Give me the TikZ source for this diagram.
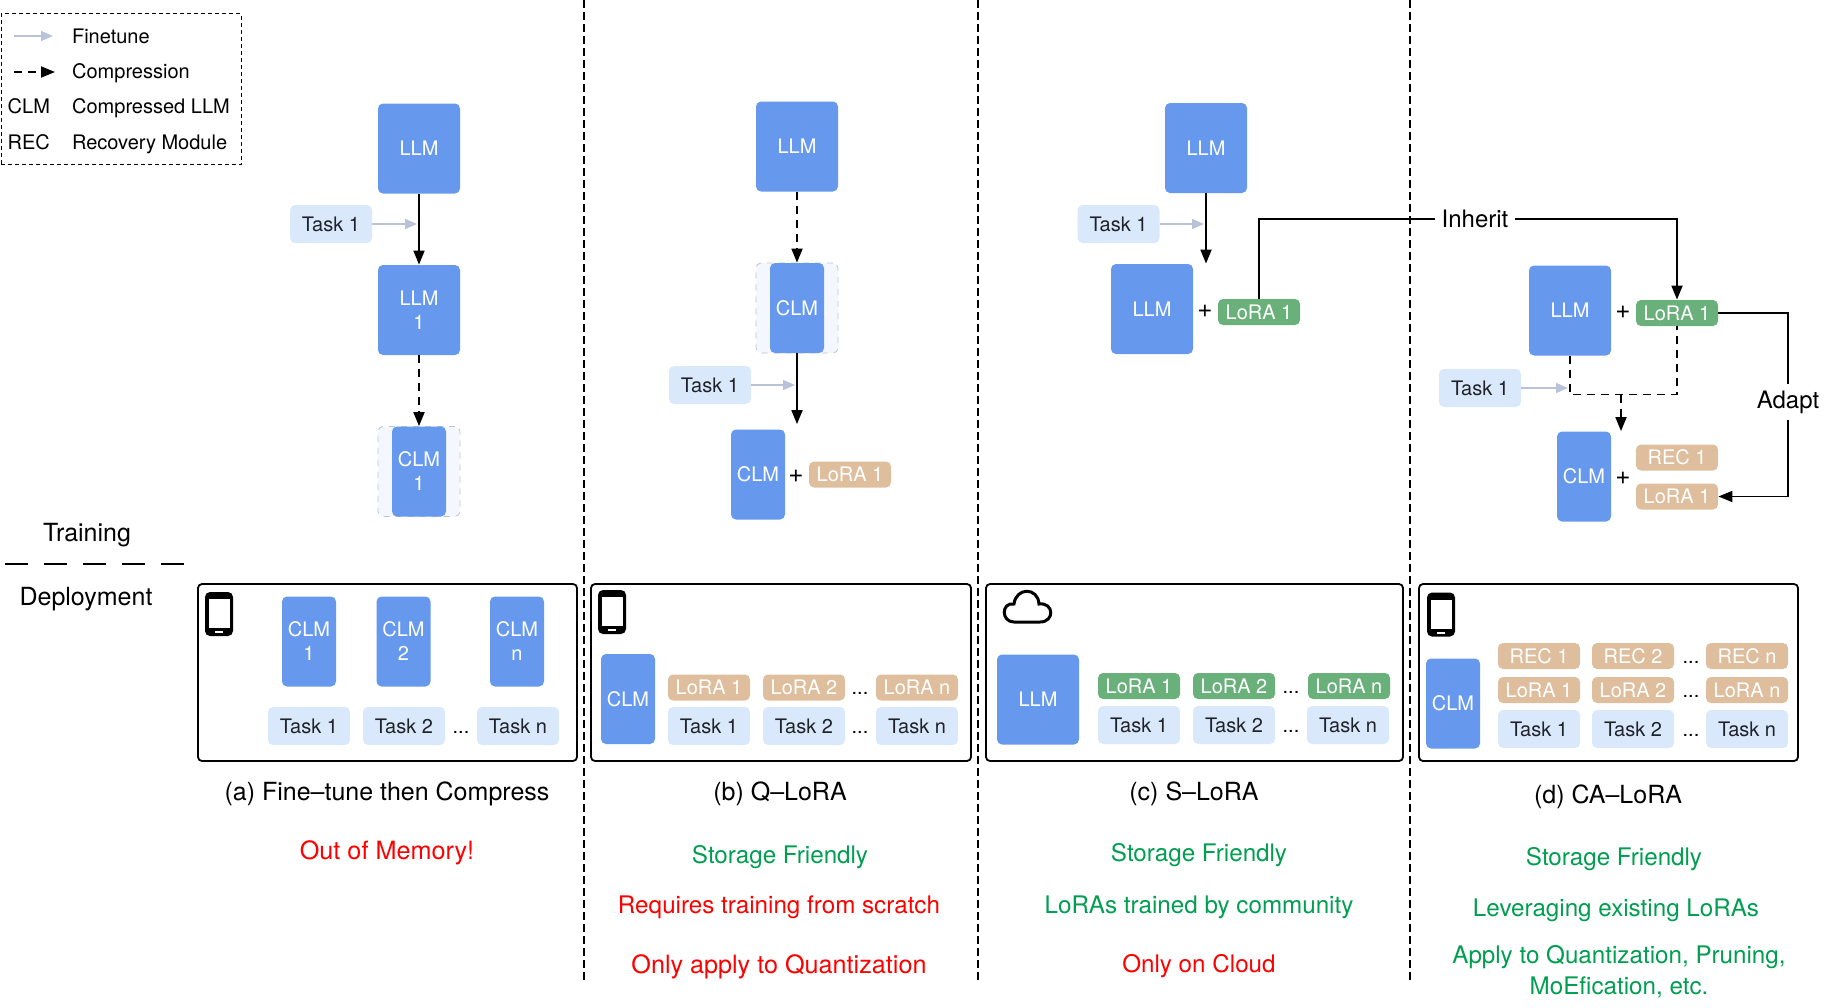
\documentclass[tikz,border=0pt]{standalone}
\usepackage{fontspec}
\setmainfont{TeX Gyre Heros}
\usetikzlibrary{arrows.meta,positioning}
\definecolor{llmblue}{RGB}{102,153,238}
\definecolor{taskblue}{RGB}{218,232,252}
\definecolor{taskink}{RGB}{31,35,41}
\definecolor{tunegray}{RGB}{184,195,218}
\definecolor{loragreen}{RGB}{106,176,122}
\definecolor{loratan}{RGB}{222,190,156}
\definecolor{goodgreen}{RGB}{0,158,80}
\tikzset{
  phonepic/.pic={
    \fill[black, rounded corners=2.5pt] (-14,-22) rectangle (14,22);
    \fill[white] (-10.5,-15) rectangle (10.5,14);
    \fill[white] (-4,17) rectangle (4,19);
  }
}
\begin{document}
\begin{tikzpicture}[
  x=0.5pt, y=-0.5pt, font=\fontsize{10}{12}\selectfont,
  >={Stealth[inset=0pt,length=7pt,width=5.5pt]},
  modbox/.style={fill=llmblue, text=white, rounded corners=2.5pt, align=center, inner sep=0pt},
  llmbox/.style={modbox, minimum width=41pt, minimum height=45pt},
  clmbox/.style={modbox, minimum width=27pt, minimum height=45pt},
  backbox/.style={draw=tunegray, dashed, fill=taskblue!30, rounded corners=2.5pt, minimum width=41pt, minimum height=45pt},
  taskbox/.style={fill=taskblue, text=taskink, rounded corners=2.5pt, minimum width=41pt, minimum height=19pt, inner sep=0pt},
  lgreen/.style={fill=loragreen, text=white, rounded corners=2.5pt, minimum width=41pt, minimum height=13pt, inner sep=0pt},
  ltan/.style={fill=loratan, text=white, rounded corners=2.5pt, minimum width=41pt, minimum height=13pt, inner sep=0pt},
  deploy/.style={draw, line width=0.9pt, rounded corners=2pt, minimum height=88.5pt, inner sep=0pt},
  tune/.style={->, draw=tunegray, line width=0.8pt, >={Stealth[inset=0pt,length=6pt,width=5pt]}, shorten >=1pt},
  main/.style={->, line width=0.9pt},
  comp/.style={line width=0.9pt, dash pattern=on 4pt off 3pt},
  cut/.style={line width=0.6pt, dash pattern=on 4pt off 2pt},
  captxt/.style={font=\fontsize{12.5}{14}\selectfont},
  labtxt/.style={font=\fontsize{12}{14}\selectfont},
  plustxt/.style={font=\fontsize{13}{14}\selectfont, inner sep=0pt},
  dotstxt/.style={text height=7pt, text depth=0pt},
  good/.style={font=\fontsize{12.1}{14}\selectfont, text=goodgreen},
  bad/.style={font=\fontsize{12.6}{14}\selectfont, text=red},
  badsm/.style={font=\fontsize{12.1}{14}\selectfont, text=red}
]
  \useasboundingbox (0,-1) rectangle (1826,1006);

  % legend
  \node[draw, dash pattern=on 2pt off 1.5pt, line width=0.4pt, minimum width=120pt, minimum height=75.5pt] (legend) at (121,88) {};
  \coordinate (lega) at (14,35); \coordinate (legb) at (55,35);
  \coordinate (legc) at (14,71); \coordinate (legd) at (55,71);
  \draw[tune] (lega) -- (legb);
  \draw[comp, ->] (legc) -- (legd);
  \node[anchor=west] (legtune) at (65,35) {Finetune};
  \node[anchor=west] (legcomp) at (65,72.5) {Compression};
  \node[anchor=east] (legclm) at (57,105.5) {CLM};
  \node[anchor=west] (legclmt) at (65,107) {Compressed LLM};
  \node[anchor=east] (legrec) at (57,141.5) {REC};
  \node[anchor=west] (legrect) at (65,143) {Recovery Module};

  % training and deployment split
  \node[captxt] (train) at (87,534) {Training};
  \node[captxt] (deployt) at (86,598) {Deployment};
  \coordinate (splita) at (5,562.5); \coordinate (splitb) at (188,562.5);
  \draw[line width=1pt, dash pattern=on 11.5pt off 8pt] (splita) -- (splitb);

  % columns
  \coordinate (cuta) at (584,-1); \coordinate (cutb) at (584,982);
  \coordinate (cutc) at (978,-1); \coordinate (cutd) at (978,982);
  \coordinate (cute) at (1410,-1); \coordinate (cutf) at (1410,982);
  \draw[cut] (cuta) -- (cutb);
  \draw[cut] (cutc) -- (cutd);
  \draw[cut] (cute) -- (cutf);

  % fine-tune then compress
  \node[llmbox] (allm) at (419,147.5) {LLM};
  \node[taskbox] (atask) at (331,223) {Task 1};
  \node[llmbox] (allmo) at (419,309) {LLM\\1};
  \node[backbox] (aback) at (419,470.5) {};
  \node[clmbox] (aclm) at (419,470.5) {CLM\\1};
  \draw[main] (allm) -- (allmo);
  \draw[tune] (atask) -- (atask -| allm);
  \draw[comp, ->] (allmo) -- (aback);

  \node[deploy, minimum width=189.5pt] (abox) at (387.5,671.5) {};
  \pic at (219,613) {phonepic};
  \node[clmbox] (aclma) at (309,640.5) {CLM\\1};
  \node[clmbox] (aclmb) at (403.5,640.5) {CLM\\2};
  \node[clmbox] (aclmn) at (517,640.5) {CLM\\n};
  \node[taskbox] (ataska) at (309,725) {Task 1};
  \node[taskbox] (ataskb) at (404,725) {Task 2};
  \node[taskbox] (ataskn) at (518,725) {Task n};
  \node[dotstxt] (adots) at (461,725) {...};
  \node[captxt] (acap) at (387,793) {(a) Fine–tune then Compress};
  \node[bad] (abad) at (387,852) {Out of Memory!};

  % q-lora
  \node[llmbox] (bllm) at (797,145.5) {LLM};
  \node[backbox] (bback) at (797,307) {};
  \node[clmbox] (bclm) at (797,307) {CLM};
  \node[taskbox] (btask) at (710,384) {Task 1};
  \node[clmbox] (bclml) at (758,473.5) {CLM};
  \node[plustxt] (bplus) at (796,475) {+};
  \node[ltan] (blora) at (850,473.5) {LoRA 1};
  \draw[comp, ->] (bllm) -- (bback);
  \draw[main, shorten >=2.5pt] (bclm) -- (bclm |- bclml.north);
  \draw[tune] (btask) -- (btask -| bclm);

  \node[deploy, minimum width=190pt] (bbox) at (781,671.5) {};
  \pic at (612,611) {phonepic};
  \node[clmbox] (bclmd) at (628,698) {CLM};
  \node[ltan] (bloraa) at (709,686.5) {LoRA 1};
  \node[ltan] (blorab) at (804,686.5) {LoRA 2};
  \node[ltan] (bloran) at (917,686.5) {LoRA n};
  \node[taskbox] (btaska) at (709,725) {Task 1};
  \node[taskbox] (btaskb) at (804,725) {Task 2};
  \node[taskbox] (btaskn) at (917,725) {Task n};
  \node[dotstxt] (bdotsa) at (860,686.5) {...};
  \node[dotstxt] (bdotsb) at (860,725) {...};
  \node[captxt] (bcap) at (780,793) {(b) Q–LoRA};
  \node[good] (bgood) at (780,856) {Storage Friendly};
  \node[badsm] (bbada) at (779,906) {Requires training from scratch};
  \node[bad] (bbadb) at (779,966) {Only apply to Quantization};

  % s-lora
  \node[llmbox] (cllm) at (1206,147) {LLM};
  \node[taskbox] (ctask) at (1118.5,223) {Task 1};
  \node[llmbox] (cllmb) at (1152,308) {LLM};
  \node[plustxt] (cplus) at (1205,310) {+};
  \node[lgreen] (clora) at (1259,311) {LoRA 1};
  \draw[main] (cllm) -- (cllm |- cllmb.north);
  \draw[tune] (ctask) -- (ctask -| cllm);

  \node[deploy, minimum width=208.5pt] (cbox) at (1194.5,671.5) {};
  \draw[line width=1.5pt] (1014,621) .. controls (1001,621) and (1001,601) .. (1014,603) .. controls (1016,586) and (1038,586) .. (1039,603) .. controls (1054,601) and (1055,621) .. (1040,621) -- cycle;
  \node[llmbox] (cllmd) at (1038,698.5) {LLM};
  \node[lgreen] (cloraa) at (1139,685) {LoRA 1};
  \node[lgreen] (clorab) at (1234,685) {LoRA 2};
  \node[lgreen] (cloran) at (1349,685) {LoRA n};
  \node[taskbox] (ctaska) at (1139,724) {Task 1};
  \node[taskbox] (ctaskb) at (1234,724) {Task 2};
  \node[taskbox] (ctaskn) at (1348,724) {Task n};
  \node[dotstxt] (cdotsa) at (1291,685) {...};
  \node[dotstxt] (cdotsb) at (1291,724) {...};
  \node[captxt] (ccap) at (1194,793) {(c) S–LoRA};
  \node[good] (cgooda) at (1199,854) {Storage Friendly};
  \node[good] (cgoodb) at (1199,906) {LoRAs trained by community};
  \node[badsm] (cbad) at (1199,965) {Only on Cloud};

  % ca-lora
  \node[llmbox] (dllm) at (1570,309.5) {LLM};
  \node[plustxt] (dplus) at (1623,311) {+};
  \node[lgreen] (dlora) at (1677,312) {LoRA 1};
  \node[taskbox] (dtask) at (1480,387) {Task 1};
  \coordinate (djoin) at (1621,393.5);
  \node[clmbox] (dclm) at (1584,475.5) {CLM};
  \node[plustxt] (dplusb) at (1623,477) {+};
  \node[ltan] (drec) at (1677,456.5) {REC 1};
  \node[ltan] (dlorab) at (1677,495.5) {LoRA 1};
  \node[labtxt] (inherit) at (1475,218) {Inherit};
  \node[labtxt] (adapt) at (1788,401) {Adapt};
  \draw[line width=0.9pt] (clora.north) |- (inherit.west);
  \draw[main] (inherit.east) -| (dlora.north);
  \draw[comp] (dllm.south) |- (djoin) -| (dlora.south);
  \draw[comp, ->] (djoin) -- (djoin |- dclm.north);
  \draw[tune] (dtask) -- (dtask -| dllm);
  \draw[line width=0.9pt] (dlora.east) -| (adapt.north);
  \draw[main] (adapt.south) |- (dlorab.east);

  \node[deploy, minimum width=189.5pt] (dbox) at (1608.5,671.5) {};
  \pic at (1441,613.5) {phonepic};
  \node[clmbox] (dclmd) at (1453,702.5) {CLM};
  \node[ltan] (dreca) at (1539,655) {REC 1};
  \node[ltan] (drecb) at (1633,655) {REC 2};
  \node[ltan] (drecn) at (1747,655) {REC n};
  \node[ltan] (dloraa) at (1539,689) {LoRA 1};
  \node[ltan] (dlorac) at (1633,689) {LoRA 2};
  \node[ltan] (dloran) at (1747,689) {LoRA n};
  \node[taskbox] (dtaska) at (1539,728) {Task 1};
  \node[taskbox] (dtaskb) at (1633,728) {Task 2};
  \node[taskbox] (dtaskn) at (1747,728) {Task n};
  \node[dotstxt] (ddotsa) at (1691,655) {...};
  \node[dotstxt] (ddotsb) at (1691,689) {...};
  \node[dotstxt] (ddotsc) at (1691,728) {...};
  \node[captxt] (dcap) at (1608,796) {(d) CA–LoRA};
  \node[good] (dgooda) at (1614,858) {Storage Friendly};
  \node[good] (dgoodb) at (1616,909) {Leveraging existing LoRAs};
  \node[good] (dgoodc) at (1619,956) {Apply to Quantization, Pruning,};
  \node[good] (dgoodd) at (1619,986) {MoEfication, etc.};
\end{tikzpicture}
\end{document}
